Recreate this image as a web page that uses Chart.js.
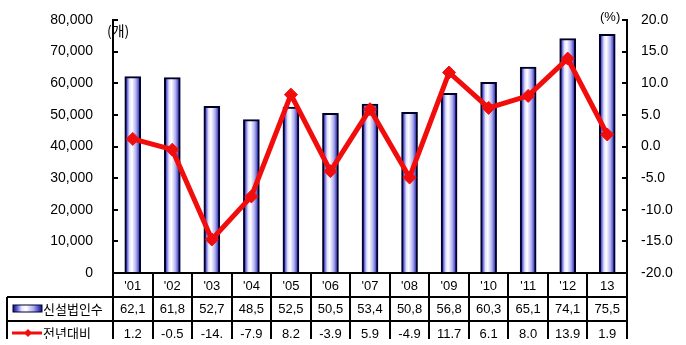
<!DOCTYPE html>
<html>
<head>
<meta charset="utf-8">
<script src="https://cdn.jsdelivr.net/npm/chart.js"></script>
<style>
  html, body { margin: 0; padding: 0; background: #fff; }
  #wrap { position: relative; width: 686px; height: 345px; }
</style>
</head>
<body>
<div id="wrap"><canvas id="chart"></canvas></div>
<script>
const years = ["'01", "'02", "'03", "'04", "'05", "'06", "'07", "'08", "'09", "'10", "'11", "'12", '13'];
const newCorps = [62100, 61800, 52700, 48500, 52500, 50500, 53400, 50800, 56800, 60300, 65100, 74100, 75500];
const yoyGrowth = [1.2, -0.5, -14.7, -7.9, 8.2, -3.9, 5.9, -4.9, 11.7, 6.1, 8.0, 13.9, 1.9];
const seriesNames = ['신설법인수', '전년대비'];

const LATIN = '"Liberation Sans", Arial, sans-serif';
const HANGUL = '"Noto Sans CJK KR", "Noto Sans", sans-serif';
const RED = '#f20d0d';
const NAVY = '#000028';

// cells in the table are narrow, so only the first four characters show
const cellText = (s) => s.slice(0, 4);
const corpLabels = newCorps.map((v) => cellText(v.toLocaleString('en-US')));
const growthLabels = yoyGrowth.map((v) => cellText(v.toFixed(1)));

function barGradient(ctx, x0, x1) {
  const g = ctx.createLinearGradient(x0, 0, x1, 0);
  g.addColorStop(0, '#10106a');
  g.addColorStop(0.12, '#5050d0');
  g.addColorStop(0.3, '#e4e4ff');
  g.addColorStop(0.45, '#ffffff');
  g.addColorStop(0.7, '#b0b0f0');
  g.addColorStop(0.9, '#4040c0');
  g.addColorStop(1, '#101070');
  return g;
}

const BAR_W = 16;

const tablePlugin = {
  id: 'dataTable',
  beforeDraw(chart) {
    const ctx = chart.ctx;
    ctx.save();
    ctx.fillStyle = '#000';
    ctx.font = '14px ' + HANGUL;
    ctx.textAlign = 'left';
    ctx.textBaseline = 'middle';
    ctx.fillText('(개)', 107, 31);
    ctx.font = '13px ' + LATIN;
    ctx.fillText('(%)', 600, 17);
    ctx.restore();
  },
  beforeDatasetsDraw(chart) {
    // short tick marks on the inner side of both value axes
    const ctx = chart.ctx;
    const { y, y1 } = chart.scales;
    ctx.save();
    ctx.strokeStyle = '#000';
    ctx.lineWidth = 2;
    y.ticks.forEach((t) => {
      const py = Math.round(y.getPixelForValue(t.value));
      ctx.beginPath();
      ctx.moveTo(y.right - 1, py);
      ctx.lineTo(y.right + 5, py);
      ctx.stroke();
    });
    y1.ticks.forEach((t) => {
      const py = Math.round(y1.getPixelForValue(t.value));
      ctx.beginPath();
      ctx.moveTo(y1.left + 1, py);
      ctx.lineTo(y1.left - 5, py);
      ctx.stroke();
    });
    ctx.restore();
  },
  afterDraw(chart) {
    const ctx = chart.ctx;
    const { left, right, bottom } = chart.chartArea;
    const xs = chart.scales.x;
    const colW = (right - left) / years.length;
    const rowH = 24;
    const r1 = bottom, r2 = bottom + rowH, r3 = bottom + rowH * 2, r4 = bottom + rowH * 3;
    const tableLeft = 7;

    ctx.save();
    ctx.beginPath();
    ctx.rect(0, 0, chart.width, 339);
    ctx.clip();

    ctx.strokeStyle = '#000';
    ctx.lineWidth = 2;
    ctx.beginPath();
    ctx.moveTo(left, r1); ctx.lineTo(right, r1);
    ctx.moveTo(tableLeft, r2); ctx.lineTo(right, r2);
    ctx.moveTo(tableLeft, r3); ctx.lineTo(right, r3);
    for (let k = 0; k <= years.length; k++) {
      const x = Math.round(left + k * colW);
      ctx.moveTo(x, r1); ctx.lineTo(x, r4);
    }
    ctx.moveTo(tableLeft, r2); ctx.lineTo(tableLeft, r4);
    ctx.stroke();

    ctx.fillStyle = '#000';
    ctx.textAlign = 'center';
    ctx.textBaseline = 'middle';
    ctx.font = '13px ' + LATIN;
    years.forEach((yr, i) => {
      const cx = xs.getPixelForValue(i);
      ctx.fillText(yr, cx, r1 + rowH / 2 + 1);
      ctx.fillText(corpLabels[i], cx, r2 + rowH / 2);
      ctx.fillText(growthLabels[i], cx, r3 + rowH / 2 + 1);
    });

    // legend keys in the row headers
    const ky = r2 + rowH / 2;
    ctx.fillStyle = barGradient(ctx, 13, 42);
    ctx.fillRect(13, ky - 4, 29, 7);
    ctx.strokeStyle = NAVY;
    ctx.lineWidth = 1;
    ctx.strokeRect(13, ky - 4, 29, 7);

    const ly = r3 + rowH / 2;
    ctx.strokeStyle = RED;
    ctx.lineWidth = 3;
    ctx.beginPath();
    ctx.moveTo(12, ly); ctx.lineTo(42, ly);
    ctx.stroke();
    ctx.fillStyle = RED;
    ctx.beginPath();
    ctx.moveTo(28, ly - 4); ctx.lineTo(32, ly); ctx.lineTo(28, ly + 4); ctx.lineTo(24, ly);
    ctx.closePath();
    ctx.fill();

    ctx.fillStyle = '#000';
    ctx.textAlign = 'left';
    ctx.font = '13px ' + HANGUL;
    ctx.fillText(seriesNames[0], 43, ky);
    ctx.fillText(seriesNames[1], 43, ly);
    ctx.restore();
  }
};

new Chart(document.getElementById('chart'), {
  data: {
    labels: years,
    datasets: [
      {
        type: 'line',
        label: seriesNames[1],
        data: yoyGrowth,
        yAxisID: 'y1',
        order: 1,
        borderColor: RED,
        borderWidth: 5,
        tension: 0,
        pointStyle: 'rectRot',
        pointRadius: 6.5,
        pointBackgroundColor: RED,
        pointBorderColor: RED,
        pointBorderWidth: 1
      },
      {
        type: 'bar',
        label: seriesNames[0],
        data: newCorps,
        yAxisID: 'y',
        order: 2,
        barThickness: BAR_W,
        borderColor: NAVY,
        borderWidth: 2,
        backgroundColor(c) {
          const chart = c.chart;
          if (!chart.chartArea) return '#9c9ce8';
          const cx = chart.scales.x.getPixelForValue(c.dataIndex);
          return barGradient(chart.ctx, cx - BAR_W / 2, cx + BAR_W / 2);
        }
      }
    ]
  },
  options: {
    responsive: true,
    maintainAspectRatio: false,
    animation: false,
    layout: { padding: { top: 20, bottom: 72, left: 0, right: 0 } },
    plugins: { legend: { display: false }, tooltip: { enabled: false } },
    scales: {
      x: { type: 'category', display: false, offset: true },
      y: {
        position: 'left',
        min: 0,
        max: 80000,
        afterFit(s) { s.width = 113; },
        ticks: {
          stepSize: 10000,
          padding: 0,
          color: '#000',
          font: { family: LATIN, size: 14 },
          callback: (v) => v.toLocaleString('en-US')
        },
        // tick marks themselves are drawn by the plugin; tickLength only spaces the labels
        grid: { display: false, drawTicks: true, tickLength: 20 },
        border: { display: true, color: '#000', width: 2 }
      },
      y1: {
        position: 'right',
        min: -20,
        max: 20,
        afterFit(s) { s.width = 59; },
        ticks: {
          stepSize: 5,
          padding: 0,
          color: '#000',
          font: { family: LATIN, size: 14 },
          callback: (v) => v.toFixed(1)
        },
        grid: { display: false, drawTicks: true, tickLength: 14 },
        border: { display: true, color: '#000', width: 2 }
      }
    }
  },
  plugins: [tablePlugin]
});
</script>
</body>
</html>
